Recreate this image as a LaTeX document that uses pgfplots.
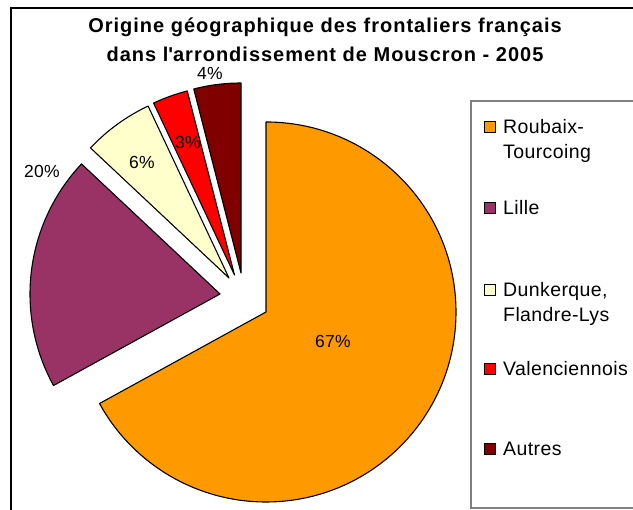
\documentclass[border=0pt]{standalone}
\usepackage{pgfplots}
\pgfplotsset{compat=1.18}
\usepackage{fontspec}
\setmainfont{Liberation Sans}
\newfontfamily\titlefont[LetterSpace=5]{Liberation Sans}
\newfontfamily\labfont[LetterSpace=1.5]{Liberation Sans}
\newfontfamily\legfont[LetterSpace=2]{Liberation Sans}
\definecolor{cRT}{HTML}{FF9900}
\definecolor{cLi}{HTML}{993366}
\definecolor{cDu}{HTML}{FFFFCC}
\definecolor{cVa}{HTML}{FF0000}
\definecolor{cAu}{HTML}{800000}
\begin{document}
\begin{tikzpicture}
% shares (%)
\def\vRT{67}\def\vLi{20}\def\vDu{6}\def\vVa{3}\def\vAu{4}
\pgfmathsetmacro{\aA}{90}
\pgfmathsetmacro{\aB}{\aA-3.6*\vRT}
\pgfmathsetmacro{\aC}{\aB-3.6*\vLi}
\pgfmathsetmacro{\aD}{\aC-3.6*\vDu}
\pgfmathsetmacro{\aE}{\aD-3.6*\vVa}
\pgfmathsetmacro{\aF}{\aE-3.6*\vAu}
\def\R{190pt}
\begin{axis}[at={(0,0)},anchor=south west,scale only axis,width=633pt,height=510pt,
  xmin=0,xmax=633,ymin=0,ymax=510,hide axis,clip=false]
% frame
\draw[line width=2pt] (axis cs:11,-40) -- (axis cs:11,502) -- (axis cs:700,502);
% legend box
\draw[line width=1.3pt,color=gray] (axis cs:700,409) -- (axis cs:471,409) -- (axis cs:471,2) -- (axis cs:700,2);
% slices
\filldraw[fill=cRT,draw=black,line width=1.1pt,line join=round] (axis cs:266,198) -- ++(\aA:\R) arc[start angle=\aA,end angle=\aB,radius=\R] -- cycle;
\filldraw[fill=cLi,draw=black,line width=1.1pt,line join=round] (axis cs:220,216) -- ++(\aB:\R) arc[start angle=\aB,end angle=\aC,radius=\R] -- cycle;
\filldraw[fill=cDu,draw=black,line width=1.1pt,line join=round] (axis cs:229,232) -- ++(\aC:\R) arc[start angle=\aC,end angle=\aD,radius=\R] -- cycle;
\filldraw[fill=cVa,draw=black,line width=1.1pt,line join=round] (axis cs:234.5,235) -- ++(\aD:\R) arc[start angle=\aD,end angle=\aE,radius=\R] -- cycle;
\filldraw[fill=cAu,draw=black,line width=1.1pt,line join=round] (axis cs:241,237) -- ++(\aE:\R) arc[start angle=\aE,end angle=\aF,radius=\R] -- cycle;
% data labels
\tikzset{lab/.style={font=\labfont\fontsize{17.5}{19}\selectfont,inner sep=0pt}}
\node[lab] at (axis cs:333,169) {67\%};
\node[lab] at (axis cs:42,338.5) {20\%};
\node[lab] at (axis cs:142,347.5) {6\%};
\node[lab] at (axis cs:188,368) {3\%};
\node[lab] at (axis cs:210,437) {4\%};
% title
\node[font=\titlefont\bfseries\fontsize{20}{22}\selectfont,anchor=base,inner sep=0pt] at (axis cs:325,477) {Origine géographique des frontaliers français};
\node[font=\titlefont\bfseries\fontsize{20}{22}\selectfont,anchor=base,inner sep=0pt] at (axis cs:325,448) {dans l\textquotesingle arrondissement de Mouscron - 2005};
% legend
\tikzset{leg/.style={font=\legfont\fontsize{19.5}{26}\selectfont,anchor=base west,inner sep=0pt},
  sq/.style={draw=black,line width=1pt,minimum size=11pt,inner sep=0pt}}
\node[sq,fill=cRT] at (axis cs:490,383) {};
\node[leg] at (axis cs:503,376.5) {Roubaix-};
\node[leg] at (axis cs:503,351) {Tourcoing};
\node[sq,fill=cLi] at (axis cs:490,302) {};
\node[leg] at (axis cs:503,295.5) {Lille};
\node[sq,fill=cDu] at (axis cs:490,220) {};
\node[leg] at (axis cs:503,213.5) {Dunkerque,};
\node[leg] at (axis cs:503,188.5) {Flandre-Lys};
\node[sq,fill=cVa] at (axis cs:490,141) {};
\node[leg] at (axis cs:503,134.5) {Valenciennois};
\node[sq,fill=cAu] at (axis cs:490,61) {};
\node[leg] at (axis cs:503,54.5) {Autres};
\end{axis}
\pgfresetboundingbox
\useasboundingbox (0,0) rectangle (633pt,510pt);
\end{tikzpicture}
\end{document}
